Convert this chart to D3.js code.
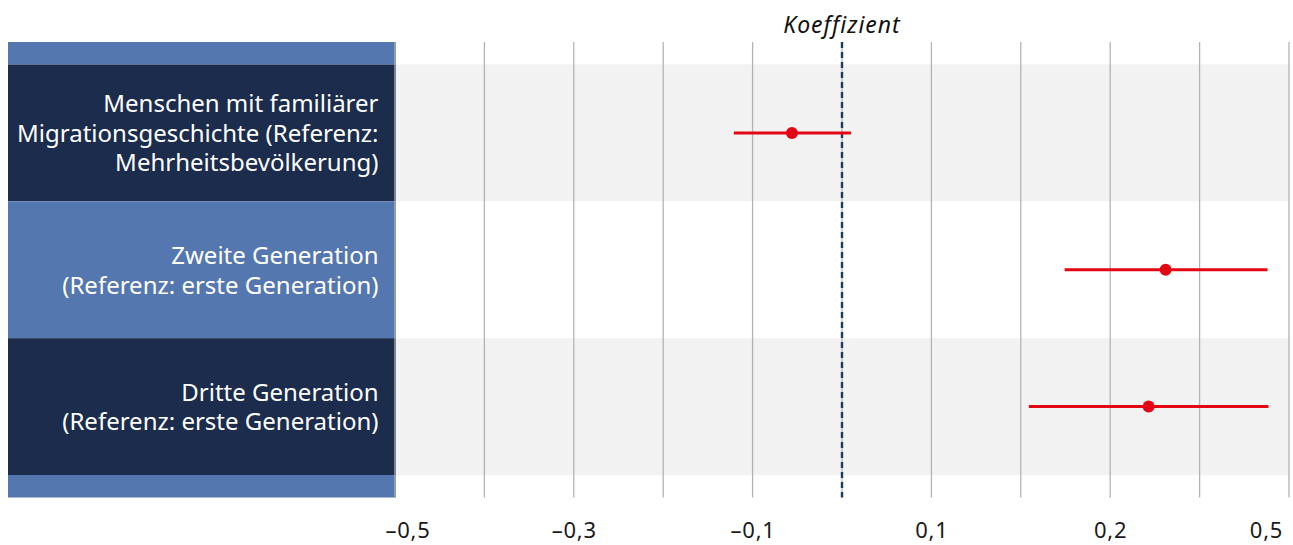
<!DOCTYPE html>
<html><head><meta charset="utf-8">
<script src="https://cdn.jsdelivr.net/npm/d3@7"></script>
<style>
html,body{margin:0;padding:0;background:#fff;}
svg{display:block;font-family:"Noto Sans",sans-serif;}
</style></head>
<body>
<svg id="c" width="1293" height="545"></svg>
<script>
const categories = [
  ["Menschen mit familiärer", "Migrationsgeschichte (Referenz:", "Mehrheitsbevölkerung)"],
  ["Zweite Generation", "(Referenz: erste Generation)"],
  ["Dritte Generation", "(Referenz: erste Generation)"]
];
const estimates = [-0.056, 0.362, 0.343];
const lower = [-0.121, 0.249, 0.209];
const upper = [0.010, 0.476, 0.477];
const gridValues = [-0.5,-0.4,-0.3,-0.2,-0.1,0,0.1,0.2,0.3,0.4,0.5];
const tickValues = [-0.5, -0.3, -0.1, 0.1, 0.3, 0.5];
const tickLabels = ["–0,5", "–0,3", "–0,1", "0,1", "0,2", "0,5"];
const axisTitle = "Koeffizient";

(function(){
const svg = d3.select("#c");
const x = d3.scaleLinear().domain([-0.5, 0.5]).range([395, 1289]);
const y = d3.scaleBand().domain(d3.range(categories.length)).range([64.5, 475]);
const panelLeft = 8, panelRight = 396;
const yTop = 42, yBottom = 497.5;
const dark = "#1b2c4d", mid = "#5577b0";

svg.append("rect").attr("x", panelLeft).attr("y", yTop).attr("width", panelRight - panelLeft)
  .attr("height", y.range()[0] - yTop).attr("fill", mid);
svg.append("rect").attr("x", panelLeft).attr("y", y.range()[1]).attr("width", panelRight - panelLeft)
  .attr("height", yBottom - y.range()[1]).attr("fill", mid);

const rows = svg.append("g").selectAll("g").data(categories).join("g");
rows.append("rect")
  .attr("x", panelLeft).attr("y", (d,i) => y(i))
  .attr("width", panelRight - panelLeft).attr("height", y.bandwidth())
  .attr("fill", (d,i) => i % 2 === 0 ? dark : mid);
rows.append("rect")
  .attr("x", panelRight).attr("y", (d,i) => y(i))
  .attr("width", x(0.5) - panelRight).attr("height", y.bandwidth())
  .attr("fill", (d,i) => i % 2 === 0 ? "#f2f2f2" : "#ffffff");
rows.each(function(lines, i){
  const cy = y(i) + y.bandwidth()/2;
  const lh = 29.5;
  const t = d3.select(this).append("text")
    .attr("text-anchor", "end").attr("fill", "#ffffff")
    .style("font-size", "24px");
  lines.forEach((ln, k) => {
    t.append("tspan").attr("x", 378.5)
      .attr("y", cy + (k - (lines.length-1)/2) * lh + 9)
      .text(ln);
  });
});

svg.append("g").selectAll("line").data(gridValues).join("line")
  .attr("x1", d => x(d)).attr("x2", d => x(d))
  .attr("y1", yTop).attr("y2", yBottom)
  .attr("stroke", "#b3b3b3").attr("stroke-width", 1.3);

svg.append("line")
  .attr("x1", x(0)).attr("x2", x(0)).attr("y1", yTop).attr("y2", yBottom)
  .attr("stroke", "#1d3a5f").attr("stroke-width", 2.4).attr("stroke-dasharray", "6,4");

const marks = svg.append("g").selectAll("g").data(estimates).join("g");
marks.append("line")
  .attr("x1", (d,i) => x(lower[i])).attr("x2", (d,i) => x(upper[i]))
  .attr("y1", (d,i) => y(i) + y.bandwidth()/2).attr("y2", (d,i) => y(i) + y.bandwidth()/2)
  .attr("stroke", "#e30613").attr("stroke-width", 3);
marks.append("circle")
  .attr("cx", d => x(d)).attr("cy", (d,i) => y(i) + y.bandwidth()/2)
  .attr("r", 6).attr("fill", "#e30613");

const axis = d3.axisBottom(x).tickValues(tickValues)
  .tickFormat((d,i) => tickLabels[i]).tickSize(0).tickPadding(0);
const ag = svg.append("g").attr("transform", "translate(0,538)").call(axis);
ag.select(".domain").remove();
ag.selectAll("text").attr("dy", 0).attr("y", 0)
  .style("font-size", "22px").style("letter-spacing", "0.8px")
  .style("font-family", "'Noto Sans',sans-serif").attr("fill", "#1a1a1a")
  .attr("dx", (d,i) => i === 0 ? 12.5 : (i === tickValues.length - 1 ? -23 : 0));

svg.append("text").attr("x", x(0)).attr("y", 33).attr("text-anchor", "middle")
  .style("font-size", "23px").style("letter-spacing", "1px").style("font-style", "italic").attr("fill", "#111")
  .text(axisTitle);
})();
</script>
</body></html>
